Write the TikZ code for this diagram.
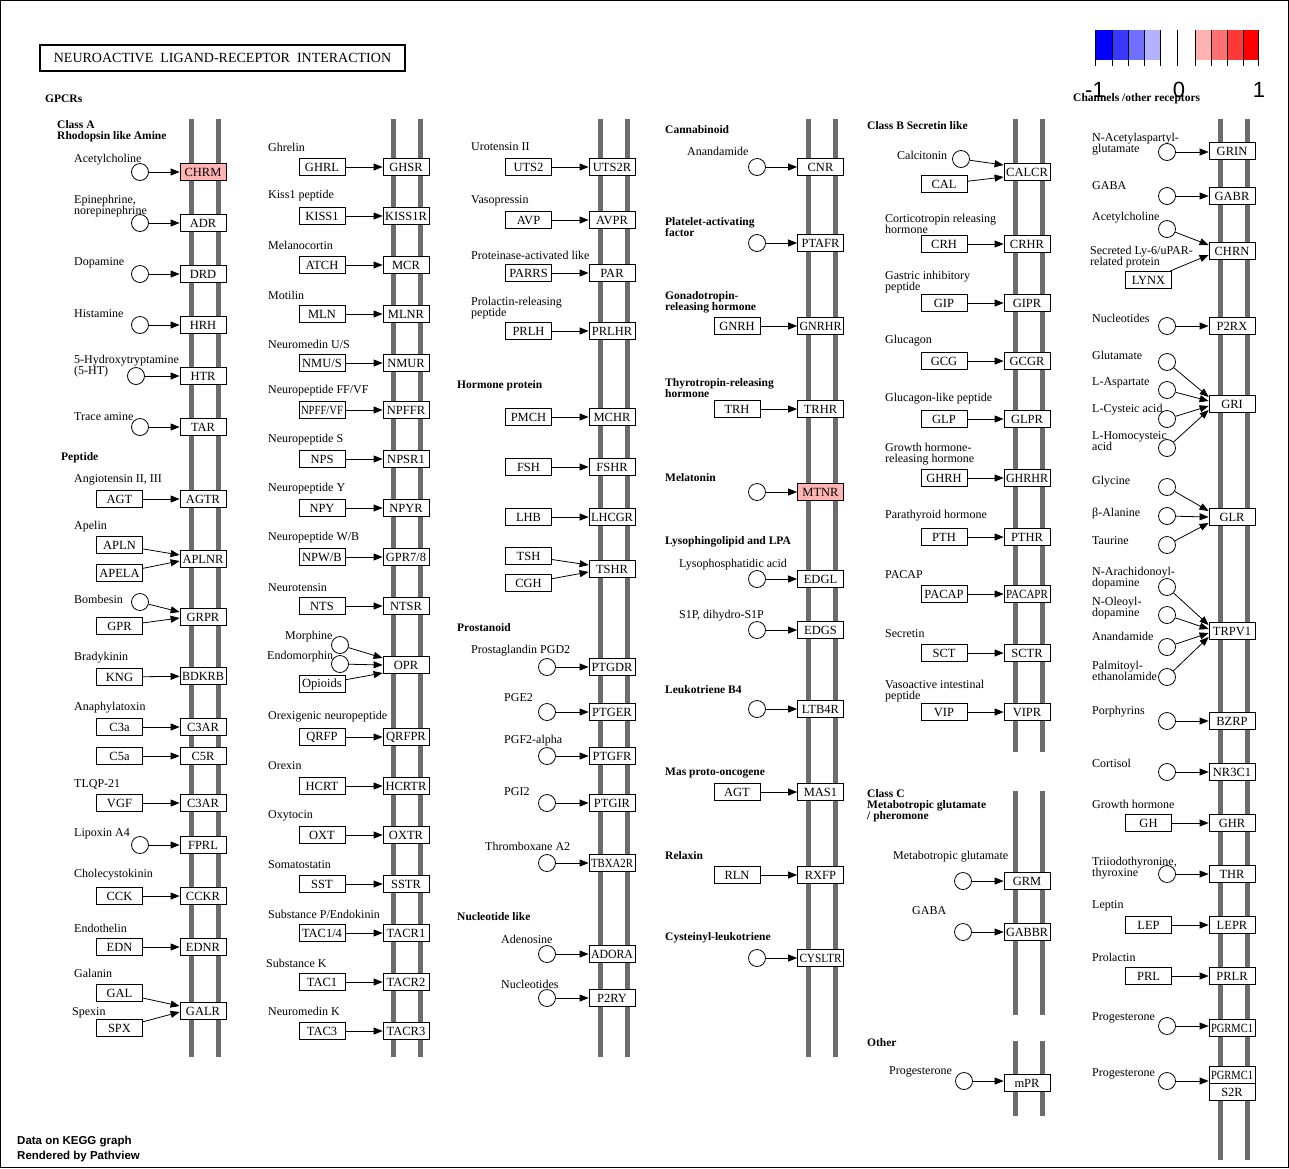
\documentclass[tikz,border=0pt]{standalone}
\usepackage{fontspec}
\setmainfont{Liberation Serif}
\setsansfont{Liberation Sans}
\usepackage{graphicx}
\usetikzlibrary{arrows.meta}
\definecolor{memgray}{RGB}{108,108,108}
\definecolor{hitred}{RGB}{255,179,179}
\definecolor{bA}{RGB}{0,0,255}
\definecolor{bB}{RGB}{56,56,255}
\definecolor{bC}{RGB}{112,112,255}
\definecolor{bD}{RGB}{178,178,255}
\definecolor{rA}{RGB}{255,178,178}
\definecolor{rB}{RGB}{255,112,112}
\definecolor{rC}{RGB}{255,56,56}
\definecolor{rD}{RGB}{255,0,0}
\newsavebox\fitbox
\newcommand\fitw[1]{\sbox\fitbox{#1}\ifdim\wd\fitbox>42pt\resizebox{42pt}{\height}{\usebox\fitbox}\else\usebox\fitbox\fi}
\begin{document}
\begin{tikzpicture}[x=1pt,y=-1pt,
  mem/.style={draw=memgray,line width=5pt},
  gene/.style={draw,fill=white,minimum width=46pt,minimum height=17pt,inner sep=0pt,line width=0.8pt,font=\fontsize{12.5}{12}\selectfont},
  hit/.style={gene,fill=hitred},
  cpd/.style={circle,draw,minimum size=17pt,inner sep=0pt,line width=0.8pt},
  lbl/.style={anchor=west,align=left,inner sep=0pt,font=\fontsize{12}{11}\selectfont},
  hdr/.style={anchor=west,align=left,inner sep=0pt,font=\fontsize{11.5}{11}\selectfont\bfseries},
  act/.style={-{Triangle[length=9pt,width=7pt]},line width=0.8pt},
  tick/.style={draw=black,line width=0.8pt}]
\useasboundingbox (0,0) rectangle (1289,1168);
\fill[white] (0,0) rectangle (1289,1168);
\draw[line width=1pt] (0.5,0.5) rectangle (1288.5,1167.5);

% title
\node[draw,line width=1.8pt,minimum width=365pt,minimum height=26pt,inner sep=0pt,font=\fontsize{14}{14}\selectfont] (title) at (222.5,58) {NEUROACTIVE\ \ LIGAND-RECEPTOR\ \ INTERACTION};

% legend
\fill[bA] (1095,30) rectangle (1112,60);
\fill[bB] (1112,30) rectangle (1128,60);
\fill[bC] (1128,30) rectangle (1144,60);
\fill[bD] (1144,30) rectangle (1160,60);
\fill[rA] (1195,30) rectangle (1211,60);
\fill[rB] (1211,30) rectangle (1227,60);
\fill[rC] (1227,30) rectangle (1243,60);
\fill[rD] (1243,30) rectangle (1258,60);
\foreach \tx in {1095,1112,1128,1144,1160,1177,1195,1211,1227,1243,1258}
  \draw[tick] (\tx,30) -- (\tx,66);
\node[font=\sffamily\fontsize{22}{22}\selectfont,anchor=base,inner sep=0pt] (lgm) at (1095,97) {-1};
\node[font=\sffamily\fontsize{22}{22}\selectfont,anchor=base,inner sep=0pt] (lgz) at (1179,97) {0};
\node[font=\sffamily\fontsize{22}{22}\selectfont,anchor=base,inner sep=0pt] (lgp) at (1259,97) {1};

% membranes
\draw[mem] (191,119) -- (191,1057); \draw[mem] (218,119) -- (218,1057);
\draw[mem] (393,119) -- (393,1057); \draw[mem] (420,119) -- (420,1057);
\draw[mem] (600,119) -- (600,1057); \draw[mem] (627,119) -- (627,1057);
\draw[mem] (808,119) -- (808,1057); \draw[mem] (835,119) -- (835,1057);
\draw[mem] (1015,119) -- (1015,752); \draw[mem] (1042,119) -- (1042,752);
\draw[mem] (1015,791) -- (1015,1015); \draw[mem] (1042,791) -- (1042,1015);
\draw[mem] (1015,1041) -- (1015,1116); \draw[mem] (1042,1041) -- (1042,1116);
\draw[mem] (1220,119) -- (1220,1160); \draw[mem] (1247,119) -- (1247,1160);

% headers
\node[hdr] (hGPCR) at (45,99) {GPCRs};
\node[hdr] (hClassA) at (57,131.5) {Class A\\Rhodopsin like Amine};
\node[hdr] (hPep) at (61,458) {Peptide};
\node[hdr] (hHorm) at (457,386) {Hormone protein};
\node[hdr] (hProst) at (457,628) {Prostanoid};
\node[hdr] (hNuc) at (457,917) {Nucleotide like};
\node[hdr] (hCann) at (665,130) {Cannabinoid};
\node[hdr] (hPAF) at (665,227.5) {Platelet-activating\\factor};
\node[hdr] (hGnRH) at (665,302.5) {Gonadotropin-\\releasing hormone};
\node[hdr] (hTRH) at (665,388.5) {Thyrotropin-releasing\\hormone};
\node[hdr] (hMel) at (665,478) {Melatonin};
\node[hdr] (hLyso) at (665,542) {Lysophingolipid and LPA};
\node[hdr] (hLTB) at (665,690) {Leukotriene B4};
\node[hdr] (hMas) at (665,773) {Mas proto-oncogene};
\node[hdr] (hRlx) at (665,856) {Relaxin};
\node[hdr] (hCys) at (665,938) {Cysteinyl-leukotriene};
\node[hdr] (hClassB) at (867,126) {Class B Secretin like};
\node[hdr] (hClassC) at (867,806) {Class C\\Metabotropic glutamate\\/ pheromone};
\node[hdr] (hOther) at (867,1043) {Other};
\node[hdr] (hChan) at (1073,99) {Channels /other receptors};

% ===== column 1 =====
\node[lbl] (l1a) at (74,160) {Acetylcholine};
\node[lbl] (l1b) at (74,206) {Epinephrine,\\norepinephrine};
\node[lbl] (l1c) at (74,263) {Dopamine};
\node[lbl] (l1d) at (74,314) {Histamine};
\node[lbl] (l1e) at (74,366.5) {5-Hydroxytryptamine\\(5-HT)};
\node[lbl] (l1f) at (74,417) {Trace amine};
\node[lbl] (l1g) at (74,480) {Angiotensin II, III};
\node[lbl] (l1h) at (74,527) {Apelin};
\node[lbl] (l1i) at (74,599) {Bombesin};
\node[lbl] (l1j) at (74,658) {Bradykinin};
\node[lbl] (l1k) at (74,708) {Anaphylatoxin};
\node[lbl] (l1l) at (74,784) {TLQP-21};
\node[lbl] (l1m) at (74,834) {Lipoxin A4};
\node[lbl] (l1n) at (74,875) {Cholecystokinin};
\node[lbl] (l1o) at (74,928) {Endothelin};
\node[lbl] (l1p) at (74,973) {Galanin};
\node[lbl] (l1q) at (72,1013) {Spexin};

\node[cpd] (cACh) at (140,172) {};
\node[cpd] (cEpi) at (140,223) {};
\node[cpd] (cDop) at (140,274) {};
\node[cpd] (cHis) at (140,325) {};
\node[cpd] (c5HT) at (136,376) {};
\node[cpd] (cTA) at (140,427) {};
\node[cpd] (cBomb) at (140,602) {};
\node[cpd] (cLipox) at (140,845) {};

\node[gene] (AGT) at (119.5,499) {AGT};
\node[gene] (APLN) at (119.5,545) {APLN};
\node[gene] (APELA) at (119.5,573) {APELA};
\node[gene] (GPR) at (119.5,626) {GPR};
\node[gene] (KNG) at (119.5,677) {KNG};
\node[gene] (C3a) at (119.5,727) {C3a};
\node[gene] (C5a) at (119.5,756) {C5a};
\node[gene] (VGF) at (119.5,803) {VGF};
\node[gene] (CCK) at (119.5,896) {CCK};
\node[gene] (EDN) at (119.5,947) {EDN};
\node[gene] (GAL) at (119.5,993) {GAL};
\node[gene] (SPX) at (119.5,1028) {SPX};

\node[hit] (CHRM) at (203,172) {CHRM};
\node[gene] (ADR) at (203,223) {ADR};
\node[gene] (DRD) at (203,274) {DRD};
\node[gene] (HRH) at (203,325) {HRH};
\node[gene] (HTR) at (203,376) {HTR};
\node[gene] (TAR) at (203,427) {TAR};
\node[gene] (AGTR) at (203,499) {AGTR};
\node[gene] (APLNR) at (203,559) {\fitw{APLNR}};
\node[gene] (GRPR) at (203,617) {GRPR};
\node[gene] (BDKRB) at (203,676) {\fitw{BDKRB}};
\node[gene] (C3AR) at (203,727) {C3AR};
\node[gene] (C5R) at (203,756) {C5R};
\node[gene] (C3ARb) at (203,803) {C3AR};
\node[gene] (FPRL) at (203,845) {FPRL};
\node[gene] (CCKR) at (203,896) {CCKR};
\node[gene] (EDNR) at (203,947) {EDNR};
\node[gene] (GALR) at (203,1011) {GALR};

\draw[act] (cACh) -- (CHRM);
\draw[act] (cEpi) -- (ADR);
\draw[act] (cDop) -- (DRD);
\draw[act] (cHis) -- (HRH);
\draw[act] (c5HT) -- (HTR);
\draw[act] (cTA) -- (TAR);
\draw[act] (AGT) -- (AGTR);
\draw[act] (APLN) -- ([yshift=4pt]APLNR.west);
\draw[act] (APELA) -- ([yshift=-2pt]APLNR.west);
\draw[act] (cBomb) -- ([yshift=5pt]GRPR.west);
\draw[act] (GPR) -- ([yshift=-1pt]GRPR.west);
\draw[act] (KNG) -- (BDKRB);
\draw[act] (C3a) -- (C3AR);
\draw[act] (C5a) -- (C5R);
\draw[act] (VGF) -- (C3ARb);
\draw[act] (cLipox) -- (FPRL);
\draw[act] (CCK) -- (CCKR);
\draw[act] (EDN) -- (EDNR);
\draw[act] (GAL) -- ([yshift=5pt]GALR.west);
\draw[act] (SPX) -- ([yshift=-1pt]GALR.west);

% ===== column 2 =====
\node[lbl] (l2a) at (268,147) {Ghrelin};
\node[lbl] (l2b) at (268,196) {Kiss1 peptide};
\node[lbl] (l2c) at (268,245) {Melanocortin};
\node[lbl] (l2d) at (268,295) {Motilin};
\node[lbl] (l2e) at (268,344) {Neuromedin U/S};
\node[lbl] (l2f) at (268,391) {Neuropeptide FF/VF};
\node[lbl] (l2g) at (268,440) {Neuropeptide S};
\node[lbl] (l2h) at (268,489) {Neuropeptide Y};
\node[lbl] (l2i) at (268,538) {Neuropeptide W/B};
\node[lbl] (l2j) at (268,588) {Neurotensin};
\node[lbl] (l2k) at (285,637) {Morphine};
\node[lbl] (l2l) at (267,657) {Endomorphin};
\node[lbl] (l2m) at (268,717) {Orexigenic neuropeptide};
\node[lbl] (l2n) at (268,766) {Orexin};
\node[lbl] (l2o) at (268,816) {Oxytocin};
\node[lbl] (l2p) at (268,865) {Somatostatin};
\node[lbl] (l2q) at (268,914) {Substance P/Endokinin};
\node[lbl] (l2r) at (266,963) {Substance K};
\node[lbl] (l2s) at (268,1011) {Neuromedin K};

\node[cpd] (cMor) at (340,645) {};
\node[cpd] (cEndo) at (340,664) {};

\node[gene] (GHRL) at (322,167) {GHRL};
\node[gene] (KISS1) at (322,216) {KISS1};
\node[gene] (ATCH) at (322,265) {ATCH};
\node[gene] (MLN) at (322,314) {MLN};
\node[gene] (NMUS) at (322,363) {NMU/S};
\node[gene] (NPFFVF) at (322,410) {\fitw{NPFF/VF}};
\node[gene] (NPS) at (322,459) {NPS};
\node[gene] (NPY) at (322,508) {NPY};
\node[gene] (NPWB) at (322,557) {NPW/B};
\node[gene] (NTS) at (322,606) {NTS};
\node[gene] (Opioids) at (322,684) {Opioids};
\node[gene] (QRFP) at (322,737) {QRFP};
\node[gene] (HCRT) at (322,786) {HCRT};
\node[gene] (OXT) at (322,835) {OXT};
\node[gene] (SST) at (322,884) {SST};
\node[gene] (TACa) at (322,933) {TAC1/4};
\node[gene] (TACb) at (322,982) {TAC1};
\node[gene] (TACc) at (322,1031) {TAC3};

\node[gene] (GHSR) at (406,167) {GHSR};
\node[gene] (KISS1R) at (406,216) {\fitw{KISS1R}};
\node[gene] (MCR) at (406,265) {MCR};
\node[gene] (MLNR) at (406,314) {MLNR};
\node[gene] (NMUR) at (406,363) {NMUR};
\node[gene] (NPFFR) at (406,410) {\fitw{NPFFR}};
\node[gene] (NPSR1) at (406,459) {\fitw{NPSR1}};
\node[gene] (NPYR) at (406,508) {NPYR};
\node[gene] (GPR78) at (406,557) {\fitw{GPR7/8}};
\node[gene] (NTSR) at (406,606) {NTSR};
\node[gene] (OPR) at (406,665) {OPR};
\node[gene] (QRFPR) at (406,737) {\fitw{QRFPR}};
\node[gene] (HCRTR) at (406,786) {\fitw{HCRTR}};
\node[gene] (OXTR) at (406,835) {OXTR};
\node[gene] (SSTR) at (406,884) {SSTR};
\node[gene] (TACR1) at (406,933) {\fitw{TACR1}};
\node[gene] (TACR2) at (406,982) {\fitw{TACR2}};
\node[gene] (TACR3) at (406,1031) {\fitw{TACR3}};

\draw[act] (GHRL) -- (GHSR);
\draw[act] (KISS1) -- (KISS1R);
\draw[act] (ATCH) -- (MCR);
\draw[act] (MLN) -- (MLNR);
\draw[act] (NMUS) -- (NMUR);
\draw[act] (NPFFVF) -- (NPFFR);
\draw[act] (NPS) -- (NPSR1);
\draw[act] (NPY) -- (NPYR);
\draw[act] (NPWB) -- (GPR78);
\draw[act] (NTS) -- (NTSR);
\draw[act] (cMor) -- ([yshift=7pt]OPR.west);
\draw[act] (cEndo) -- (OPR.west);
\draw[act] (Opioids) -- ([yshift=-8pt]OPR.west);
\draw[act] (QRFP) -- (QRFPR);
\draw[act] (HCRT) -- (HCRTR);
\draw[act] (OXT) -- (OXTR);
\draw[act] (SST) -- (SSTR);
\draw[act] (TACa) -- (TACR1);
\draw[act] (TACb) -- (TACR2);
\draw[act] (TACc) -- (TACR3);

% ===== column 3 =====
\node[lbl] (l3a) at (471,147) {Urotensin II};
\node[lbl] (l3b) at (471,201) {Vasopressin};
\node[lbl] (l3c) at (471,255) {Proteinase-activated like};
\node[lbl] (l3d) at (471,308.5) {Prolactin-releasing\\peptide};
\node[lbl] (l3e) at (471,651) {Prostaglandin PGD2};
\node[lbl] (l3f) at (504,698) {PGE2};
\node[lbl] (l3g) at (504,741) {PGF2-alpha};
\node[lbl] (l3h) at (504,792) {PGI2};
\node[lbl] (l3i) at (485,846) {Thromboxane A2};
\node[lbl] (l3j) at (501,939) {Adenosine};
\node[lbl] (l3k) at (501,984) {Nucleotides};

\node[gene] (UTS2) at (528.5,167) {UTS2};
\node[gene] (AVP) at (528.5,220) {AVP};
\node[gene] (PARRS) at (528.5,273) {PARRS};
\node[gene] (PRLH) at (528.5,331) {PRLH};
\node[gene] (PMCH) at (528.5,417) {PMCH};
\node[gene] (FSH) at (528.5,467) {FSH};
\node[gene] (LHB) at (528.5,517) {LHB};
\node[gene] (TSH) at (528.5,556) {TSH};
\node[gene] (CGH) at (528.5,583) {CGH};

\node[cpd] (cPGD2) at (547,667) {};
\node[cpd] (cPGE2) at (547,712) {};
\node[cpd] (cPGF2) at (547,756) {};
\node[cpd] (cPGI2) at (547,803) {};
\node[cpd] (cTXA2) at (547,863) {};
\node[cpd] (cAdo) at (547,954) {};
\node[cpd] (cNuc3) at (547,998) {};

\node[gene] (UTS2R) at (612,167) {UTS2R};
\node[gene] (AVPR) at (612,220) {AVPR};
\node[gene] (PAR) at (612,273) {PAR};
\node[gene] (PRLHR) at (612,331) {\fitw{PRLHR}};
\node[gene] (MCHR) at (612,417) {MCHR};
\node[gene] (FSHR) at (612,467) {FSHR};
\node[gene] (LHCGR) at (612,517) {\fitw{LHCGR}};
\node[gene] (TSHR) at (612,569) {TSHR};
\node[gene] (PTGDR) at (612,667) {\fitw{PTGDR}};
\node[gene] (PTGER) at (612,712) {PTGER};
\node[gene] (PTGFR) at (612,756) {PTGFR};
\node[gene] (PTGIR) at (612,803) {PTGIR};
\node[gene] (TBXA2R) at (612,863) {\fitw{TBXA2R}};
\node[gene] (ADORA) at (612,954) {\fitw{ADORA}};
\node[gene] (P2RY) at (612,998) {P2RY};

\draw[act] (UTS2) -- (UTS2R);
\draw[act] (AVP) -- (AVPR);
\draw[act] (PARRS) -- (PAR);
\draw[act] (PRLH) -- (PRLHR);
\draw[act] (PMCH) -- (MCHR);
\draw[act] (FSH) -- (FSHR);
\draw[act] (LHB) -- (LHCGR);
\draw[act] (TSH) -- ([yshift=4pt]TSHR.west);
\draw[act] (CGH) -- ([yshift=-3pt]TSHR.west);
\draw[act] (cPGD2) -- (PTGDR);
\draw[act] (cPGE2) -- (PTGER);
\draw[act] (cPGF2) -- (PTGFR);
\draw[act] (cPGI2) -- (PTGIR);
\draw[act] (cTXA2) -- (TBXA2R);
\draw[act] (cAdo) -- (ADORA);
\draw[act] (cNuc3) -- (P2RY);

% ===== column 4 =====
\node[lbl] (l4a) at (687,151) {Anandamide};
\node[lbl] (l4b) at (679,565) {Lysophosphatidic acid};
\node[lbl] (l4c) at (679,616) {S1P, dihydro-S1P};

\node[cpd] (cAEA4) at (757,167) {};
\node[cpd] (cPAF) at (757,243) {};
\node[cpd] (cMel) at (757,492) {};
\node[cpd] (cLPA) at (757,579) {};
\node[cpd] (cS1P) at (757,630) {};
\node[cpd] (cLTB4) at (757,709) {};
\node[cpd] (cCysLT) at (757,958) {};

\node[gene] (GNRH) at (737,326) {GNRH};
\node[gene] (TRH) at (737,409) {TRH};
\node[gene] (AGTb) at (737,792) {AGT};
\node[gene] (RLN) at (737,875) {RLN};

\node[gene] (CNR) at (820.5,167) {CNR};
\node[gene] (PTAFR) at (820.5,243) {\fitw{PTAFR}};
\node[gene] (GNRHR) at (820.5,326) {\fitw{GNRHR}};
\node[gene] (TRHR) at (820.5,409) {TRHR};
\node[hit] (MTNR) at (820.5,492) {MTNR};
\node[gene] (EDGL) at (820.5,579) {EDGL};
\node[gene] (EDGS) at (820.5,630) {EDGS};
\node[gene] (LTB4R) at (820.5,709) {LTB4R};
\node[gene] (MAS1) at (820.5,792) {MAS1};
\node[gene] (RXFP) at (820.5,875) {RXFP};
\node[gene] (CYSLTR) at (820.5,958) {\fitw{CYSLTR}};

\draw[act] (cAEA4) -- (CNR);
\draw[act] (cPAF) -- (PTAFR);
\draw[act] (GNRH) -- (GNRHR);
\draw[act] (TRH) -- (TRHR);
\draw[act] (cMel) -- (MTNR);
\draw[act] (cLPA) -- (EDGL);
\draw[act] (cS1P) -- (EDGS);
\draw[act] (cLTB4) -- (LTB4R);
\draw[act] (AGTb) -- (MAS1);
\draw[act] (RLN) -- (RXFP);
\draw[act] (cCysLT) -- (CYSLTR);

% ===== column 5 =====
\node[lbl] (l5a) at (897,155) {Calcitonin};
\node[lbl] (l5b) at (885,223.5) {Corticotropin releasing\\hormone};
\node[lbl] (l5c) at (885,282.5) {Gastric inhibitory\\peptide};
\node[lbl] (l5d) at (885,341) {Glucagon};
\node[lbl] (l5e) at (885,399) {Glucagon-like peptide};
\node[lbl] (l5f) at (885,454.5) {Growth hormone-\\releasing hormone};
\node[lbl] (l5g) at (885,516) {Parathyroid hormone};
\node[lbl] (l5h) at (885,575) {PACAP};
\node[lbl] (l5i) at (885,634) {Secretin};
\node[lbl] (l5j) at (885,691.5) {Vasoactive intestinal\\peptide};
\node[lbl] (l5k) at (893,857) {Metabotropic glutamate};
\node[lbl] (l5l) at (912,911) {GABA};
\node[lbl] (l5m) at (889,1072) {Progesterone};

\node[cpd] (cCalc) at (961,159) {};
\node[cpd] (cGlu5) at (963,881) {};
\node[cpd] (cGABA5) at (963,932) {};
\node[cpd] (cProg5) at (964,1081) {};

\node[gene] (CAL) at (944,184) {CAL};
\node[gene] (CRH) at (944,244) {CRH};
\node[gene] (GIP) at (944,303) {GIP};
\node[gene] (GCG) at (944,361) {GCG};
\node[gene] (GLP) at (944,419) {GLP};
\node[gene] (GHRH) at (944,478) {GHRH};
\node[gene] (PTH) at (944,537) {PTH};
\node[gene] (PACAP) at (944,594) {PACAP};
\node[gene] (SCT) at (944,653) {SCT};
\node[gene] (VIP) at (944,712) {VIP};

\node[gene] (CALCR) at (1027,172) {\fitw{CALCR}};
\node[gene] (CRHR) at (1027,244) {CRHR};
\node[gene] (GIPR) at (1027,303) {GIPR};
\node[gene] (GCGR) at (1027,361) {GCGR};
\node[gene] (GLPR) at (1027,419) {GLPR};
\node[gene] (GHRHR) at (1027,478) {\fitw{GHRHR}};
\node[gene] (PTHR) at (1027,537) {PTHR};
\node[gene] (PACAPR) at (1027,594) {\fitw{PACAPR}};
\node[gene] (SCTR) at (1027,653) {SCTR};
\node[gene] (VIPR) at (1027,712) {VIPR};
\node[gene] (GRM) at (1027,881) {GRM};
\node[gene] (GABBR) at (1027,932) {\fitw{GABBR}};
\node[gene] (mPR) at (1027,1083) {mPR};

\draw[act] (cCalc) -- ([yshift=7pt]CALCR.west);
\draw[act] (CAL) -- ([yshift=-5pt]CALCR.west);
\draw[act] (CRH) -- (CRHR);
\draw[act] (GIP) -- (GIPR);
\draw[act] (GCG) -- (GCGR);
\draw[act] (GLP) -- (GLPR);
\draw[act] (GHRH) -- (GHRHR);
\draw[act] (PTH) -- (PTHR);
\draw[act] (PACAP) -- (PACAPR);
\draw[act] (SCT) -- (SCTR);
\draw[act] (VIP) -- (VIPR);
\draw[act] (cGlu5) -- (GRM);
\draw[act] (cGABA5) -- (GABBR);
\draw[act] (cProg5) -- (cProg5 -| mPR.west);

% ===== column 6 =====
\node[lbl] (l6a) at (1092,144.5) {N-Acetylaspartyl-\\glutamate};
\node[lbl] (l6b) at (1092,186) {GABA};
\node[lbl] (l6c) at (1092,218) {Acetylcholine};
\node[lbl] (l6d) at (1090,257.5) {Secreted Ly-6/uPAR-\\related protein};
\node[lbl] (l6e) at (1092,318) {Nucleotides};
\node[lbl] (l6f) at (1092,355) {Glutamate};
\node[lbl] (l6g) at (1092,383) {L-Aspartate};
\node[lbl] (l6h) at (1092,410) {L-Cysteic acid};
\node[lbl] (l6i) at (1092,441.5) {L-Homocysteic\\acid};
\node[lbl] (l6j) at (1092,482) {Glycine};
\node[lbl] (l6k) at (1092,514) {β-Alanine};
\node[lbl] (l6l) at (1092,541) {Taurine};
\node[lbl] (l6m) at (1092,578.5) {N-Arachidonoyl-\\dopamine};
\node[lbl] (l6n) at (1092,608.5) {N-Oleoyl-\\dopamine};
\node[lbl] (l6o) at (1092,636) {Anandamide};
\node[lbl] (l6p) at (1092,670.5) {Palmitoyl-\\ethanolamide};
\node[lbl] (l6q) at (1092,712) {Porphyrins};
\node[lbl] (l6r) at (1092,763) {Cortisol};
\node[lbl] (l6s) at (1092,804) {Growth hormone};
\node[lbl] (l6t) at (1092,868) {Triiodothyronine,\\thyroxine};
\node[lbl] (l6u) at (1092,906) {Leptin};
\node[lbl] (l6v) at (1092,957) {Prolactin};
\node[lbl] (l6w) at (1092,1018) {Progesterone};
\node[lbl] (l6x) at (1092,1074) {Progesterone};

\node[cpd] (cNAAG) at (1167,152) {};
\node[cpd] (cGABA6) at (1167,196) {};
\node[cpd] (cACh6) at (1167,229) {};
\node[cpd] (cNuc6) at (1167,326) {};
\node[cpd] (cGlu6) at (1167,362) {};
\node[cpd] (cAsp) at (1167,390) {};
\node[cpd] (cCys) at (1167,419) {};
\node[cpd] (cHcy) at (1167,448) {};
\node[cpd] (cGly) at (1167,487) {};
\node[cpd] (cbAla) at (1167,516) {};
\node[cpd] (cTau) at (1167,545) {};
\node[cpd] (cNADA) at (1167,587) {};
\node[cpd] (cOLDA) at (1167,615) {};
\node[cpd] (cAEA6) at (1167,647) {};
\node[cpd] (cPEA) at (1167,677) {};
\node[cpd] (cPorph) at (1167,721) {};
\node[cpd] (cCort) at (1167,772) {};
\node[cpd] (cT3) at (1167,874) {};
\node[cpd] (cProg6a) at (1167,1026) {};
\node[cpd] (cProg6b) at (1167,1081) {};

\node[gene] (LYNX) at (1148.5,280) {LYNX};
\node[gene] (GH) at (1148.5,823) {GH};
\node[gene] (LEP) at (1148.5,925) {LEP};
\node[gene] (PRL) at (1148.5,976) {PRL};

\node[gene] (GRIN) at (1232,151) {GRIN};
\node[gene] (GABR) at (1232,196) {GABR};
\node[gene] (CHRN) at (1232,251) {CHRN};
\node[gene] (P2RX) at (1232,326) {P2RX};
\node[gene] (GRI) at (1232,404) {GRI};
\node[gene] (GLR) at (1232,517) {GLR};
\node[gene] (TRPV1) at (1232,631) {TRPV1};
\node[gene] (BZRP) at (1232,721) {BZRP};
\node[gene] (NR3C1) at (1232,772) {\fitw{NR3C1}};
\node[gene] (GHR) at (1232,823) {GHR};
\node[gene] (THR) at (1232,874) {THR};
\node[gene] (LEPR) at (1232,925) {LEPR};
\node[gene] (PRLR) at (1232,976) {PRLR};
\node[gene] (PGRMCa) at (1232,1028) {\fitw{PGRMC1}};
\node[gene] (PGRMCb) at (1232,1075) {\fitw{PGRMC1}};
\node[gene] (S2R) at (1232,1092) {S2R};

\draw[act] (cNAAG) -- (cNAAG -| GRIN.west);
\draw[act] (cGABA6) -- (GABR);
\draw[act] (cACh6) -- ([yshift=6pt]CHRN.west);
\draw[act] (LYNX) -- ([yshift=-4pt]CHRN.west);
\draw[act] (cNuc6) -- (P2RX);
\draw[act] (cGlu6) -- ([yshift=7pt]GRI.west);
\draw[act] (cAsp) -- ([yshift=3pt]GRI.west);
\draw[act] (cCys) -- ([yshift=-2pt]GRI.west);
\draw[act] (cHcy) -- ([yshift=-6pt]GRI.west);
\draw[act] (cGly) -- ([yshift=6pt]GLR.west);
\draw[act] (cbAla) -- (GLR.west);
\draw[act] (cTau) -- ([yshift=-6pt]GLR.west);
\draw[act] (cNADA) -- ([yshift=6pt]TRPV1.west);
\draw[act] (cOLDA) -- ([yshift=2pt]TRPV1.west);
\draw[act] (cAEA6) -- ([yshift=-2pt]TRPV1.west);
\draw[act] (cPEA) -- ([yshift=-6pt]TRPV1.west);
\draw[act] (cPorph) -- (BZRP);
\draw[act] (cCort) -- (NR3C1);
\draw[act] (GH) -- (GHR);
\draw[act] (cT3) -- (THR);
\draw[act] (LEP) -- (LEPR);
\draw[act] (PRL) -- (PRLR);
\draw[act] (cProg6a) -- (cProg6a -| PGRMCa.west);
\draw[act] (cProg6b) -- (cProg6b -| PGRMCb.west);

% footer
\node[anchor=west,align=left,inner sep=0pt,font=\sffamily\bfseries\fontsize{11.5}{15}\selectfont] (foot) at (17,1149.5) {Data on KEGG graph\\Rendered by Pathview};
\end{tikzpicture}
\end{document}
